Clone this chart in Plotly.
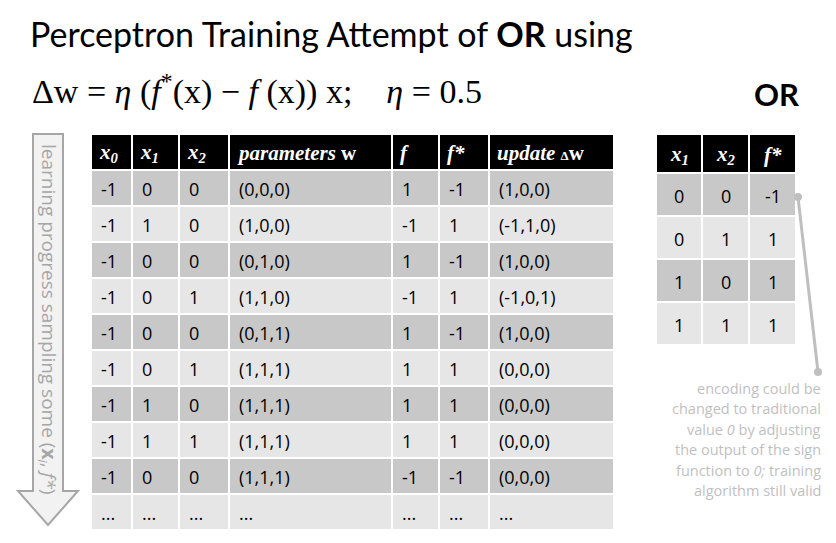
import plotly.graph_objects as go

# training log table
headers = ["<b><i>x<sub>0</sub></i></b>", "<b><i>x<sub>1</sub></i></b>", "<b><i>x<sub>2</sub></i></b>",
           "<b><i>parameters</i> w</b>", "<b><i>f</i></b>", "<b><i>f*</i></b>", "<b><i>update</i> <span style='font-size:13px'>Δ</span>w</b>"]
x0 = ["-1", "-1", "-1", "-1", "-1", "-1", "-1", "-1", "-1", "..."]
x1 = ["0", "1", "0", "0", "0", "0", "1", "1", "0", "..."]
x2 = ["0", "0", "0", "1", "0", "1", "0", "1", "0", "..."]
params = ["(0,0,0)", "(1,0,0)", "(0,1,0)", "(1,1,0)", "(0,1,1)", "(1,1,1)", "(1,1,1)", "(1,1,1)", "(1,1,1)", "..."]
f_out = ["1", "-1", "1", "-1", "1", "1", "1", "1", "-1", "..."]
f_star = ["-1", "1", "-1", "1", "-1", "1", "1", "1", "-1", "..."]
update = ["(1,0,0)", "(-1,1,0)", "(1,0,0)", "(-1,0,1)", "(1,0,0)", "(0,0,0)", "(0,0,0)", "(0,0,0)", "(0,0,0)", "..."]

# OR truth table
or_headers = ["<b><i>x<sub>1</sub></i></b>", "<b><i>x<sub>2</sub></i></b>", "<b><i>f*</i></b>"]
or_x1 = ["0", "0", "1", "1"]
or_x2 = ["0", "1", "0", "1"]
or_f = ["-1", "1", "1", "1"]

note = ["encoding could be", "changed to traditional", "value <i>0</i> by adjusting",
        "the output of the sign", "function to <i>0;</i> training", "algorithm still valid"]

DARK, LIGHT, GAP = "#c8c8c8", "#e6e6e6", 2
shapes, ann = [], []


def table(left, widths, top, head_h, row_h, heads, cols, center):
    edges = [left]
    for w in widths:
        edges.append(edges[-1] + w)
    for c in range(len(widths)):
        xa, xb = edges[c], edges[c + 1] - GAP
        shapes.append(dict(type="rect", x0=xa, x1=xb, y0=top, y1=top + head_h - GAP,
                           fillcolor="black", line_width=0, layer="below"))
        ann.append(dict(x=(xa + xb) / 2 if center else xa + 5, y=top + head_h / 2,
                        text=heads[c], xanchor="center" if center else "left",
                        showarrow=False, font=dict(family="Liberation Serif", size=21, color="white")))
        for r, v in enumerate(cols[c]):
            ya = top + head_h + r * row_h
            shapes.append(dict(type="rect", x0=xa, x1=xb, y0=ya, y1=ya + row_h - GAP,
                               fillcolor=DARK if r % 2 == 0 else LIGHT, line_width=0, layer="below"))
            ann.append(dict(x=(xa + xb) / 2 if center else xa + 7, y=ya + row_h / 2,
                            text=v, xanchor="center" if center else "left", showarrow=False,
                            font=dict(family="Open Sans", size=18, color="black")))


table(92, [41, 47, 50, 163, 47, 50, 125], 136, 36, 36, headers,
      [x0, x1, x2, params, f_out, f_star, update], False)
table(657, [46, 47, 47], 136, 39, 43, or_headers, [or_x1, or_x2, or_f], True)

# learning progress arrow
shapes.append(dict(type="path", path="M 33 135 L 63 135 L 63 492 L 78 492 L 48 526 L 18 492 L 33 492 Z",
                   fillcolor="#f2f2f2", line=dict(color="#a6a6a6", width=2)))
ann.append(dict(x=48, y=320, text="learning progress sampling some (<b>x</b><sub><i>i</i></sub>, <i>f*</i>)",
                textangle=90, showarrow=False, font=dict(family="Open Sans", size=19, color="#a6a6a6")))

# pointer line for the note
shapes.append(dict(type="line", x0=798, y0=198, x1=818, y1=373, line=dict(color="#bfbfbf", width=3)))
for px, py in [(798, 198), (818, 373)]:
    shapes.append(dict(type="circle", x0=px - 4, x1=px + 4, y0=py - 4, y1=py + 4,
                       fillcolor="#bfbfbf", line_width=0))
for i, line in enumerate(note):
    ann.append(dict(x=823, y=389 + i * 20.5, text=line, xanchor="right", showarrow=False,
                    font=dict(family="Open Sans", size=14.5, color="#bfbfbf")))

ann += [
    dict(x=28, y=34, text="Perceptron Training Attempt of <b>OR</b> using", xanchor="left", showarrow=False,
         font=dict(family="Lato", size=34, color="black")),
    dict(x=30, y=90, text="Δw = <i>η</i> (<i>f</i><sup>*</sup>(x) − <i>f</i> (x)) x;    <i>η</i> = 0.5",
         xanchor="left", showarrow=False, font=dict(family="Liberation Serif", size=34, color="black")),
    dict(x=776, y=95, text="<b>OR</b>", showarrow=False, font=dict(family="Lato", size=31, color="black")),
]

fig = go.Figure()
fig.update_layout(width=836, height=543, margin=dict(l=0, r=0, t=0, b=0),
                  plot_bgcolor="white", paper_bgcolor="white", shapes=shapes, annotations=ann,
                  xaxis=dict(range=[8, 844], visible=False, fixedrange=True),
                  yaxis=dict(range=[552, 9], visible=False, fixedrange=True))
fig.write_html("out.html")
